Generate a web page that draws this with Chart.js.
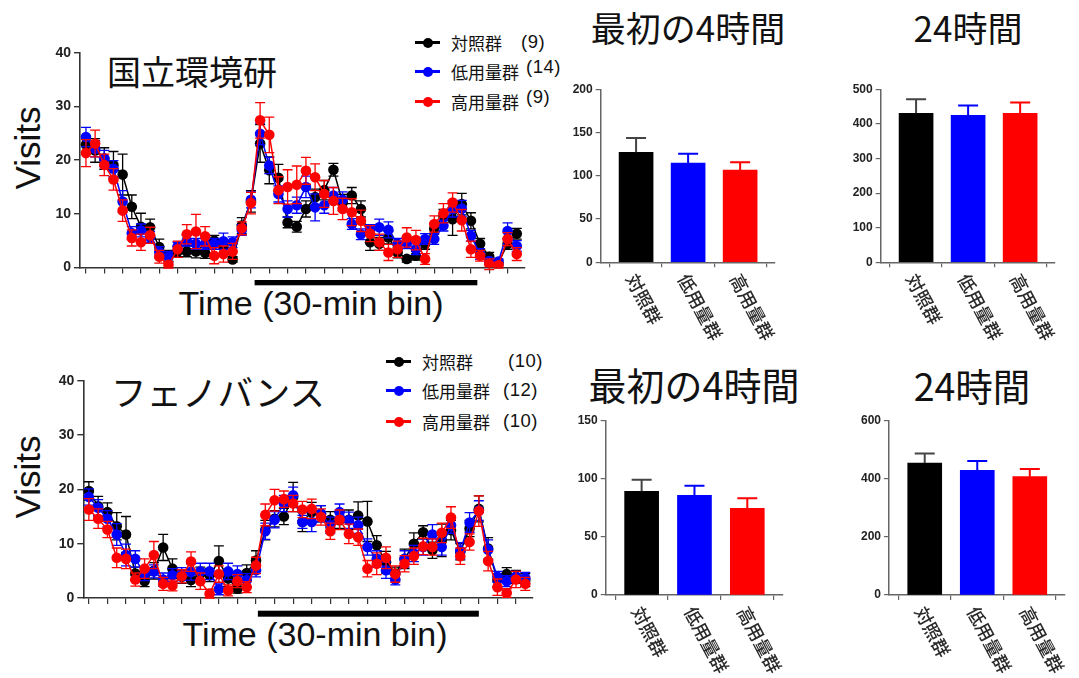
<!DOCTYPE html>
<html><head><meta charset="utf-8">
<script src="https://cdn.jsdelivr.net/npm/chart.js@4.4.1/dist/chart.umd.min.js"></script>
<style>
body{margin:0;background:#fff;width:1079px;height:678px;position:relative;overflow:hidden;font-family:"Liberation Sans",Arial,sans-serif;}
canvas{position:absolute;}
.t{position:absolute;white-space:nowrap;transform:translate(-50%,-50%);color:#111;}
.jp{font-family:"Noto Sans CJK JP","Noto Sans",sans-serif;}
.visits{position:absolute;font-size:35px;transform:translate(-50%,-50%) rotate(-90deg);white-space:nowrap;color:#111;}
.time{position:absolute;font-size:34px;white-space:nowrap;color:#111;transform:translateX(-50%);}
.leg{position:absolute;font-family:"Noto Sans CJK JP",sans-serif;font-size:17px;color:#111;white-space:nowrap;}
.leg .ln{position:absolute;height:2.5px;width:25px;}
.leg .dt{position:absolute;width:10px;height:10px;border-radius:50%;}
.leg .lb{position:absolute;transform:translateY(-50%);}
.leg .n{position:absolute;font-family:"Liberation Sans",Arial,sans-serif;font-size:18.5px;letter-spacing:0.5px;transform:translateY(-50%);}
</style></head>
<body>
<div class="t jp" style="left:192px;top:70px;font-size:34px;">国立環境研</div>
<div class="t jp" style="left:218px;top:390px;font-size:35.5px;">フェノバンス</div>
<div class="t jp" style="left:688px;top:26px;font-size:35px;">最初の4時間</div>
<div class="t jp" style="left:968px;top:26px;font-size:35px;">24時間</div>
<div class="t jp" style="left:694px;top:383px;font-size:38px;">最初の4時間</div>
<div class="t jp" style="left:972px;top:384px;font-size:37.5px;">24時間</div>
<div class="visits" style="left:28px;top:148px;">Visits</div>
<div class="visits" style="left:28px;top:477px;">Visits</div>
<div class="time" style="left:311px;top:284px;">Time (30-min bin)</div>
<div class="time" style="left:315px;top:615px;">Time (30-min bin)</div>
<div id="leg1"></div>
<div id="leg2"></div>
<canvas id="c1"></canvas>
<canvas id="c2"></canvas>
<canvas id="b1"></canvas>
<canvas id="b2"></canvas>
<canvas id="b3"></canvas>
<canvas id="b4"></canvas>
<script>
// ---------- data ----------
const groups = ['対照群', '低用量群', '高用量群'];
const groupColors = ['#000000', '#0000ff', '#ff0000'];
const binCount = 48;
const darkPeriod1 = [18.4, 42.7];
const darkPeriod2 = [18.2, 42.0];
const visitsTicks = [0, 10, 20, 30, 40];

// 国立環境研 (n = 9, 14, 9)
const nies_n = ['(9)', '(14)', '(9)'];
const nies_ctrl = [22.9,21.8,20.3,19.1,17.3,11.3,7.6,7.5,3.8,2.2,3.0,3.0,3.0,2.7,5.0,3.8,1.5,7.8,12.3,23.1,18.1,16.7,8.4,7.6,10.9,13.1,14.4,18.2,12.1,13.4,10.9,4.7,4.4,5.6,2.8,1.6,2.2,4.4,7.2,9.6,9.0,11.8,8.7,4.4,2.0,0.9,4.4,6.3];
const nies_low  = [24.3,22.1,20.3,18.4,12.3,6.4,6.9,5.7,2.9,2.0,3.9,5.0,4.4,4.4,4.4,4.9,4.7,7.0,12.6,24.9,19.0,13.7,10.9,11.6,15.0,11.2,11.6,13.4,12.6,8.1,6.2,7.0,7.5,7.0,4.4,4.5,3.4,5.3,5.3,7.8,10.9,11.0,5.9,2.5,1.2,1.1,6.8,4.0];
const nies_high = [21.3,23.1,19.1,16.4,10.6,5.5,4.7,6.0,2.0,0.5,3.4,6.2,6.7,5.8,2.2,2.5,3.0,7.3,12.0,27.4,24.7,14.4,15.0,15.4,18.0,16.8,13.7,12.4,10.9,10.3,8.7,6.3,4.7,2.8,3.4,5.6,5.1,1.6,8.1,10.1,12.1,8.8,3.4,2.2,0.6,0.4,5.3,2.5];
const nies_ctrl_err = [1.5,2.2,2.0,2.5,3.8,2.2,2.5,1.5,1.5,1.0,1.0,1.0,1.2,1.0,1.0,1.2,0.5,1.5,2.0,3.5,2.5,2.5,1.0,1.0,1.5,1.5,1.8,1.2,1.5,1.5,1.5,1.5,1.2,1.2,1.0,0.6,0.8,1.0,1.0,1.2,3.0,2.0,1.5,1.0,0.8,0.5,1.0,1.0];
const nies_low_err  = [1.8,1.5,1.5,1.5,2.0,1.2,1.2,1.0,1.0,1.0,0.8,1.0,1.0,1.0,1.0,1.5,1.0,1.0,1.5,2.0,1.5,1.5,1.5,1.5,2.0,2.5,1.5,1.5,1.5,1.0,1.0,1.0,1.5,1.5,1.0,1.0,1.0,1.0,1.0,1.0,1.5,1.5,1.0,1.0,0.5,0.5,1.5,1.0];
const nies_high_err = [2.5,2.5,2.0,2.0,2.0,1.5,1.5,1.5,1.2,0.6,1.5,1.8,3.2,1.8,1.5,1.5,1.5,1.2,2.0,3.3,3.3,2.5,3.2,3.5,2.5,2.5,2.5,2.5,2.0,2.5,2.0,1.5,1.5,1.5,1.5,1.8,1.8,1.0,1.5,1.8,1.8,2.0,1.5,1.0,1.0,0.5,1.2,1.2];

// フェノバンス (n = 10, 12, 10)
const phe_n = ['(10)', '(12)', '(10)'];
const phe_ctrl = [19.7,16.9,15.8,13.2,11.7,4.5,3.1,5.0,9.3,5.4,3.9,3.3,4.5,4.2,6.8,3.6,1.7,4.6,6.9,12.5,14.6,15.0,18.6,14.0,15.8,15.5,14.4,14.3,14.4,15.2,14.1,9.7,6.6,4.5,7.2,10.0,12.1,8.8,10.6,12.5,8.5,12.8,16.4,9.1,3.3,4.4,3.9,3.3];
const phe_low  = [18.6,16.6,14.6,11.7,7.9,7.2,4.4,4.9,3.4,4.2,4.4,4.8,4.9,4.9,1.6,4.9,4.4,3.3,5.1,12.3,14.4,17.4,18.9,14.0,14.0,15.5,13.4,15.8,14.3,13.4,9.4,7.2,5.1,3.4,7.2,8.2,9.4,11.7,9.4,13.4,8.7,13.9,16.1,8.9,3.9,3.1,3.9,3.7];
const phe_high = [16.3,14.6,12.6,7.4,7.2,3.4,5.4,7.9,2.6,2.3,4.0,6.7,3.1,0.8,4.4,1.4,3.1,2.0,6.0,15.3,18.0,18.2,17.4,16.3,16.4,14.9,12.3,14.4,11.8,11.2,5.4,6.3,7.4,4.4,6.3,7.7,9.5,9.4,12.0,14.8,7.7,10.3,16.0,6.8,2.0,0.9,3.4,2.6];
const phe_ctrl_err = [1.7,1.8,1.7,2.5,3.3,1.2,1.0,1.5,2.4,1.8,1.2,1.2,1.2,1.2,2.8,1.5,0.8,1.5,1.8,1.8,1.5,1.5,2.7,1.8,1.8,1.5,1.5,1.5,1.8,2.5,3.7,1.8,2.0,1.2,1.8,2.0,1.2,1.5,3.0,1.8,1.5,1.5,2.4,2.0,1.2,1.2,1.2,1.2];
const phe_low_err  = [1.5,1.5,1.5,2.0,2.0,1.5,1.2,1.2,1.2,1.2,1.2,1.5,1.5,1.5,1.0,1.5,1.5,1.2,1.2,1.5,1.5,1.5,1.5,1.2,1.8,1.5,1.5,1.5,1.5,1.5,1.5,1.5,1.5,1.0,1.5,1.5,1.5,1.8,1.5,1.5,1.5,1.8,1.8,1.8,1.0,1.0,1.0,1.0];
const phe_high_err = [2.0,1.8,1.5,1.8,1.8,1.2,1.8,2.5,1.2,1.0,1.2,1.8,1.5,0.8,1.5,1.0,1.2,1.0,1.5,2.0,2.0,1.5,1.5,1.5,1.8,1.5,1.5,1.8,1.8,1.5,1.5,2.0,2.0,1.5,1.5,1.5,1.5,1.5,1.8,2.0,1.5,1.5,2.8,1.8,1.5,0.8,1.5,1.2];

// bar summaries (mean, SEM)
const nies_first4h = [127.2, 114.8, 106.7];
const nies_first4h_err = [16.5, 10.8, 8.9];
const nies_24h = [430.6, 424.9, 430.6];
const nies_24h_err = [40.5, 28.0, 31.0];
const phe_first4h = [89.2, 85.8, 74.6];
const phe_first4h_err = [10.0, 8.3, 8.6];
const phe_24h = [454.3, 429.0, 407.3];
const phe_24h_err = [33.0, 32.0, 26.4];

// ---------- helpers ----------
Chart.defaults.font.family = '"Liberation Sans", Arial, sans-serif';
Chart.defaults.animation = false;

function place(id, r) {
  const c = document.getElementById(id);
  c.style.left = r.x + 'px'; c.style.top = r.y + 'px';
  c.style.width = r.w + 'px'; c.style.height = r.h + 'px';
  c.width = r.w; c.height = r.h;
  return c;
}

const lineErrPlugin = {
  id: 'lineErr',
  beforeDatasetDraw(chart, args) {
    const ds = chart.data.datasets[args.index];
    if (!ds.err) return;
    const meta = args.meta, y = chart.scales.y, ctx = chart.ctx;
    ctx.save();
    ctx.strokeStyle = ds.borderColor; ctx.lineWidth = 1.3;
    meta.data.forEach((pt, i) => {
      const v = ds.data[i].y, e = ds.err[i];
      const y1 = y.getPixelForValue(v + e), y2 = y.getPixelForValue(v - e);
      ctx.beginPath();
      ctx.moveTo(pt.x, y1); ctx.lineTo(pt.x, y2);
      ctx.moveTo(pt.x - 5, y1); ctx.lineTo(pt.x + 5, y1);
      ctx.moveTo(pt.x - 5, y2); ctx.lineTo(pt.x + 5, y2);
      ctx.stroke();
    });
    ctx.restore();
  }
};

const darkBarPlugin = {
  id: 'darkBar',
  afterDraw(chart, args, opts) {
    if (!opts.range) return;
    const x = chart.scales.x, ctx = chart.ctx;
    const x1 = x.getPixelForValue(opts.range[0]), x2 = x.getPixelForValue(opts.range[1]);
    ctx.save(); ctx.fillStyle = '#000';
    ctx.fillRect(x1, chart.chartArea.bottom + opts.offset, x2 - x1, opts.thick);
    ctx.restore();
  }
};

function lineChart(id, canvasRect, area, series, errs, xMin, xMax, dark) {
  const c = place(id, canvasRect);
  const datasets = series.map((s, k) => ({
    label: groups[k],
    data: s.map((v, i) => ({x: i, y: v})),
    err: errs[k],
    borderColor: groupColors[k], backgroundColor: groupColors[k],
    pointBackgroundColor: groupColors[k], pointBorderColor: groupColors[k],
    borderWidth: 1.5, pointRadius: 5.3, pointBorderWidth: 0, tension: 0,
    order: 3 - k
  }));
  return new Chart(c, {
    type: 'line',
    data: {datasets},
    plugins: [lineErrPlugin, darkBarPlugin],
    options: {
      responsive: false, animation: false,
      layout: {padding: {top: area.top - canvasRect.y, right: canvasRect.x + canvasRect.w - area.right, left: 0, bottom: 0}},
      plugins: {legend: {display: false}, tooltip: {enabled: false},
        darkBar: {range: dark.range, offset: dark.offset, thick: dark.thick}},
      scales: {
        x: {type: 'linear', min: xMin, max: xMax,
          afterFit: s => { s.height = canvasRect.y + canvasRect.h - area.bottom; },
          border: {display: true, color: '#333', width: 1.6},
          grid: {drawOnChartArea: false, drawTicks: true, tickLength: 6, color: '#333', lineWidth: 1.2},
          ticks: {stepSize: 2, includeBounds: false, autoSkip: false, callback: () => '', padding: 0, maxRotation: 0}},
        y: {type: 'linear', min: 0, max: 40,
          afterFit: s => { s.width = area.left - canvasRect.x; },
          afterBuildTicks: s => { s.ticks = visitsTicks.map(v => ({value: v})); },
          border: {display: true, color: '#333', width: 1.6},
          grid: {drawOnChartArea: false, drawTicks: true, tickLength: 6, color: '#333', lineWidth: 1.4},
          ticks: {font: {size: 14, weight: 'bold'}, color: '#222', padding: 3}}
      }
    }
  });
}

const barErrPlugin = {
  id: 'barErr',
  afterDatasetsDraw(chart) {
    const ds = chart.data.datasets[0], meta = chart.getDatasetMeta(0), y = chart.scales.y, ctx = chart.ctx;
    ctx.save(); ctx.lineWidth = 2;
    meta.data.forEach((bar, i) => {
      const v = ds.data[i].y, e = ds.err[i];
      const yt = y.getPixelForValue(v + e);
      ctx.strokeStyle = i === 0 ? '#444' : groupColors[i];
      ctx.beginPath();
      ctx.moveTo(bar.x, bar.y); ctx.lineTo(bar.x, yt);
      ctx.moveTo(bar.x - 10, yt); ctx.lineTo(bar.x + 10, yt);
      ctx.stroke();
    });
    ctx.restore();
  },
  afterDraw(chart) {
    const x = chart.scales.x, ctx = chart.ctx, base = chart.chartArea.bottom;
    ctx.save();
    ctx.font = '500 18px "Noto Sans CJK JP"';
    ctx.fillStyle = '#2a2a2a'; ctx.textAlign = 'left'; ctx.textBaseline = 'middle';
    groups.forEach((g, i) => {
      const px = x.getPixelForValue(i);
      ctx.save();
      ctx.translate(px - 5, base + 13);
      ctx.rotate(62 * Math.PI / 180);
      ctx.fillText(g, 0, 0);
      ctx.restore();
    });
    ctx.restore();
  }
};

function barChart(id, canvasRect, area, vals, errs, yMax, step) {
  const c = place(id, canvasRect);
  return new Chart(c, {
    type: 'bar',
    data: {datasets: [{
      data: vals.map((v, i) => ({x: i, y: v})), err: errs,
      backgroundColor: groupColors, borderWidth: 0, barThickness: 34
    }]},
    plugins: [barErrPlugin],
    options: {
      responsive: false, animation: false,
      layout: {padding: {top: area.top - canvasRect.y, right: canvasRect.x + canvasRect.w - area.right, left: 0, bottom: 0}},
      plugins: {legend: {display: false}, tooltip: {enabled: false}},
      scales: {
        x: {type: 'linear', min: -0.68, max: 2.67, offset: false,
          afterFit: s => { s.height = canvasRect.y + canvasRect.h - area.bottom; },
          border: {display: true, color: '#666', width: 1.5},
          grid: {drawOnChartArea: false, drawTicks: true, tickLength: 5, color: '#666', lineWidth: 1.2},
          ticks: {stepSize: 1, includeBounds: false, autoSkip: false, callback: () => '', padding: 0, maxRotation: 0}},
        y: {type: 'linear', min: 0, max: yMax,
          afterFit: s => { s.width = area.left - canvasRect.x; },
          border: {display: true, color: '#666', width: 1.5},
          grid: {drawOnChartArea: false, drawTicks: true, tickLength: 5, color: '#666', lineWidth: 1.2},
          ticks: {stepSize: step, font: {size: 12, weight: 'bold'}, color: '#222', padding: 3}}
      }
    }
  });
}

// ---------- charts ----------
lineChart('c1', {x: 0, y: 0, w: 540, h: 300}, {left: 80, top: 52.7, right: 525, bottom: 267.5},
  [nies_ctrl, nies_low, nies_high], [nies_ctrl_err, nies_low_err, nies_high_err], -0.65, 47.9,
  {range: darkPeriod1, offset: 12.5, thick: 5.3});
lineChart('c2', {x: 0, y: 330, w: 545, h: 300}, {left: 83.3, top: 380.7, right: 532.7, bottom: 598},
  [phe_ctrl, phe_low, phe_high], [phe_ctrl_err, phe_low_err, phe_high_err], -0.6, 47.8,
  {range: darkPeriod2, offset: 12.7, thick: 6});

barChart('b1', {x: 560, y: 70, w: 235, h: 290}, {left: 600.7, top: 89.3, right: 775, bottom: 262.3},
  nies_first4h, nies_first4h_err, 200, 50);
barChart('b2', {x: 840, y: 70, w: 239, h: 290}, {left: 880.7, top: 89.3, right: 1055, bottom: 262.3},
  nies_24h, nies_24h_err, 500, 100);
barChart('b3', {x: 560, y: 400, w: 240, h: 278}, {left: 605.7, top: 420.7, right: 782.7, bottom: 595},
  phe_first4h, phe_first4h_err, 150, 50);
barChart('b4', {x: 845, y: 400, w: 234, h: 278}, {left: 889, top: 420.7, right: 1065, bottom: 595},
  phe_24h, phe_24h_err, 600, 200);

// ---------- legends (HTML) ----------
function legend(id, x, rows, nX, nLift, counts) {
  const el = document.getElementById(id);
  rows.forEach((yy, k) => {
    const d = document.createElement('div');
    d.className = 'leg'; d.style.left = x + 'px'; d.style.top = yy + 'px';
    d.innerHTML = `<div class="ln" style="left:0;top:-1px;background:${groupColors[k]}"></div>` +
      `<div class="dt" style="left:8px;top:-4.5px;background:${groupColors[k]}"></div>` +
      `<div class="lb" style="left:36px;top:0">${groups[k]}</div>` +
      `<div class="n" style="left:${nX[k]}px;top:${-nLift[k]}px">${counts[k]}</div>`;
    el.appendChild(d);
  });
}
legend('leg1', 415, [42, 71, 101], [106, 111, 111], [0, 4, 4], nies_n);
legend('leg2', 386, [361, 390, 421], [122, 117, 117], [0, 0, 0], phe_n);
</script>
</body></html>
